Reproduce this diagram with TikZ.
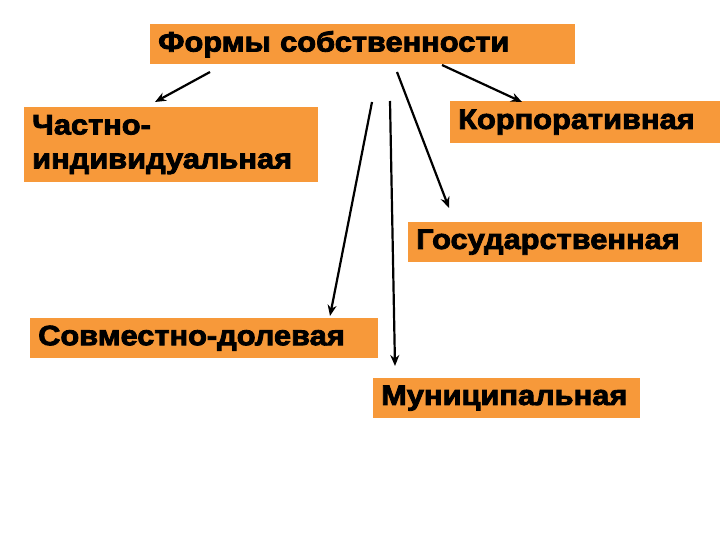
\documentclass[tikz,border=0pt]{standalone}
\usepackage{fontspec}
\setmainfont{Liberation Sans}
\newfontfamily\boxfont[UprightFont={* Bold}, FakeBold=3, FakeStretch=1.1]{Liberation Sans}
\usetikzlibrary{arrows.meta}
\definecolor{boxorange}{HTML}{F7993A}
\tikzset{
  box/.style={fill=boxorange, anchor=north west, inner xsep=8pt, inner ysep=0pt,
    align=left, font=\boxfont\fontsize{28}{34}\selectfont, text=black},
  conn/.style={line width=2.2pt, -{Stealth[length=11pt,width=9pt]}}
}
\begin{document}
\begin{tikzpicture}[x=1pt,y=1pt]
\useasboundingbox (0,0) rectangle (720,-540);
\fill[white] (0,0) rectangle (720,-540);
\node[box, minimum width=425pt, minimum height=40pt, text width=409pt] (top) at (150,-24) {Формы собственности};
\node[box, minimum width=294pt, minimum height=75pt, text width=278pt] (priv) at (24,-107) {Частно-\\индивидуальная};
\node[box, minimum width=270pt, minimum height=42pt, text width=254pt] (corp) at (450,-101) {Корпоративная};
\node[box, minimum width=294pt, minimum height=40pt, text width=278pt] (gos) at (408,-222) {Государственная};
\node[box, minimum width=348pt, minimum height=40pt, text width=332pt] (sovm) at (30,-318) {Совместно-долевая};
\node[box, minimum width=267pt, minimum height=40pt, text width=251pt] (mun) at (373,-378) {Муниципальная};
\coordinate (s1) at (210,-72);
\coordinate (e1) at (155,-102);
\coordinate (s2) at (442,-65);
\coordinate (e2) at (522,-102);
\coordinate (s3) at (397,-72);
\coordinate (e3) at (449,-208);
\coordinate (s4) at (372,-102);
\coordinate (e4) at (330,-316);
\coordinate (s5) at (390,-101);
\coordinate (e5) at (395,-366);
\draw[conn] (s1) -- (e1);
\draw[conn] (s2) -- (e2);
\draw[conn] (s3) -- (e3);
\draw[conn] (s4) -- (e4);
\draw[conn] (s5) -- (e5);
\end{tikzpicture}
\end{document}
